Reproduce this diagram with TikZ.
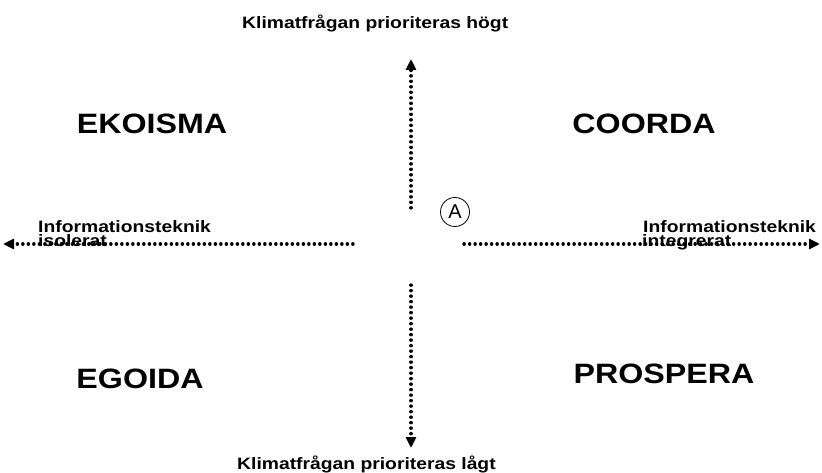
\documentclass[tikz,border=0pt]{standalone}
\usepackage{fontspec}
\setmainfont{Liberation Sans}
\newfontfamily\polefont{Liberation Sans}[FakeStretch=1.17]
\newfontfamily\quadfont{Liberation Sans}[FakeStretch=1.15]
\usepackage{tikz}
\usetikzlibrary{arrows.meta}

\begin{document}
\begin{tikzpicture}[x=1pt,y=-1pt,
    axis/.style={line width=3.2pt,line cap=round,dash pattern=on 0.3pt off 5.2pt,
                 -{Triangle[length=11pt,width=10pt]}},
    pole/.style={inner sep=0pt,anchor=base west,font=\polefont\bfseries\fontsize{16.5}{17}\selectfont},
    quadrant/.style={inner sep=0pt,font=\quadfont\bfseries\fontsize{28}{30}\selectfont}]

            \useasboundingbox (0,0) rectangle (822,473); % Page

            % Axis ends
            \coordinate (top0) at (411,208);
            \coordinate (top1) at (411,59);
            \coordinate (bot0) at (411,285);
            \coordinate (bot1) at (411,448);
            \coordinate (left0) at (353,244);
            \coordinate (left1) at (3,244);
            \coordinate (right0) at (464,244);
            \coordinate (right1) at (820,244);

            % Dotted axes
            \draw[axis] (top0) -- (top1); % Climate high
            \draw[axis] (bot0) -- (bot1); % Climate low
            \draw[axis] (left0) -- (left1); % IT isolated
            \draw[axis] (right0) -- (right1); % IT integrated

            % Axis labels
            \node[pole] (high) at (242,29) {Klimatfrågan prioriteras högt};
            \node[pole] (low) at (237,469) {Klimatfrågan prioriteras lågt};
            \node[pole] (isoA) at (38,233) {Informationsteknik};
            \node[pole] (isoB) at (38,247) {isolerat};
            \node[pole] (intA) at (643,233) {Informationsteknik};
            \node[pole] (intB) at (642,247) {integrerat};

            % Scenarios
            \node[quadrant] (ekoisma) at (152,124) {EKOISMA};
            \node[quadrant] (coorda) at (644,124) {COORDA};
            \node[quadrant] (egoida) at (140,379) {EGOIDA};
            \node[quadrant] (prospera) at (664,374) {PROSPERA};

            % Point A
            \node[draw,circle,line width=0.8pt,minimum size=29pt,inner sep=0pt,
                  font=\fontsize{20}{22}\selectfont] (pointA) at (455,212) {A};

\end{tikzpicture}
\end{document}
